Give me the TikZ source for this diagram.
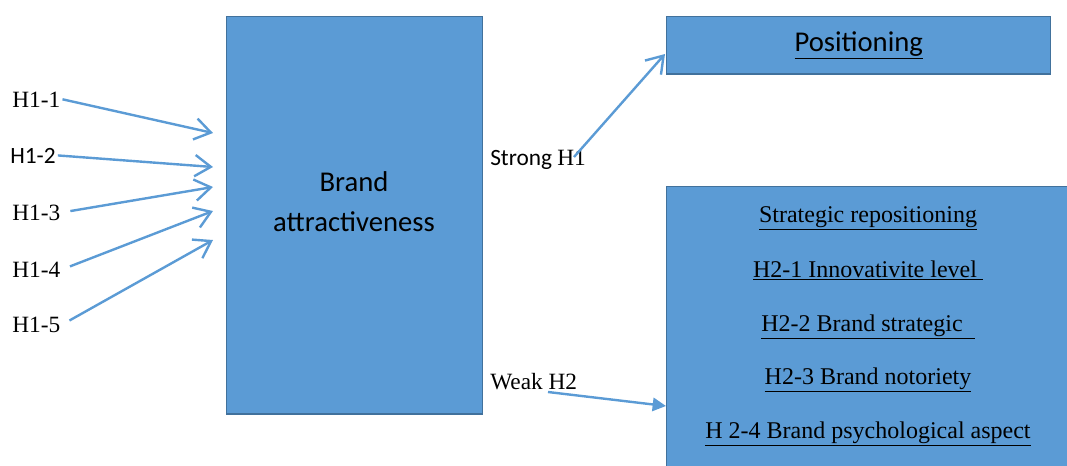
\documentclass[tikz,border=0pt]{standalone}
\usepackage{fontspec}
\setmainfont{Liberation Serif}
\newfontfamily\calibfont{Carlito}
\usetikzlibrary{positioning,arrows.meta}
\definecolor{boxblue}{HTML}{5B9BD5}
\definecolor{edgeblue}{HTML}{41719C}
\tikzset{
  bigbox/.style={rectangle, draw=edgeblue, fill=boxblue, line width=1.1pt,
                 anchor=north west, inner sep=0pt},
  hlbl/.style={anchor=base west, inner sep=1.5pt, font=\fontsize{17.5}{20}\selectfont},
  slbl/.style={anchor=base west, inner sep=1.5pt, font=\calibfont\fontsize{17.5}{20}\selectfont},
  boxtxt/.style={align=center, font=\calibfont\fontsize{21.5}{30}\selectfont},
  itemtxt/.style={anchor=base, inner sep=0pt, font=\fontsize{18}{20}\selectfont},
  openarr/.style={-{Straight Barb[length=12pt, width=16pt]}, draw=boxblue, line width=1.8pt},
  fillarr/.style={-{Triangle[length=10pt, width=10pt]}, draw=boxblue, line width=1.8pt},
}

\begin{document}
\begin{tikzpicture}[x=0.75pt, y=-0.75pt]
\clip (0,0) rectangle (1067,465);

% boxes
\node[bigbox, minimum width=192pt, minimum height=298pt] (attr) at (226,16) {};
\node[boxtxt] (attrtxt) at (354,202) {Brand\\attractiveness};
\node[bigbox, minimum width=288pt, minimum height=43pt, font=\calibfont\fontsize{21.5}{24}\selectfont]
  (pos) at (666,16) {\underline{Positioning}};
\node[bigbox, minimum width=330pt, minimum height=235pt] (repos) at (666,186) {};
\node[itemtxt] (r0) at (868,222) {\underline{Strategic repositioning}};
\node[itemtxt] (r1) at (868,277) {\underline{H2-1 Innovativite level\ }};
\node[itemtxt] (r2) at (868,331) {\underline{H2-2 Brand strategic\ \ }};
\node[itemtxt] (r3) at (868,384) {\underline{H2-3 Brand notoriety}};
\node[itemtxt] (r4) at (868,438) {\underline{H 2-4 Brand psychological aspect}};

% left hypotheses
\node[hlbl] (h11) at (10,107) {H1-1};
\node[slbl] (h12) at (8,163) {H1-2};
\node[hlbl] (h13) at (10,220) {H1-3};
\node[hlbl] (h14) at (10,277) {H1-4};
\node[hlbl] (h15) at (10,332) {H1-5};
\coordinate (t1) at (213,133);
\coordinate (t2) at (213,167);
\coordinate (t3) at (213,187);
\coordinate (t4) at (213,211);
\coordinate (t5) at (213,240);
\draw[openarr] (h11.east) -- (t1);
\draw[openarr] (h12.east) -- (t2);
\foreach \i in {3,4,5}\draw[openarr, shorten <=6pt] (h1\i.east) -- (t\i);

% strong / weak
\node[slbl, inner sep=0pt] (strong) at (490,165) {Strong {\rmfamily H1}};
\coordinate (sfrom) at (574,157);
\coordinate (sto) at (665,54);
\draw[openarr] (sfrom) -- (sto);
\node[hlbl, inner sep=0pt] (weak) at (490,389) {Weak H2};
\coordinate (wfrom) at (548,392);
\coordinate (wto) at (666,406);
\draw[fillarr] (wfrom) -- (wto);
\end{tikzpicture}
\end{document}
